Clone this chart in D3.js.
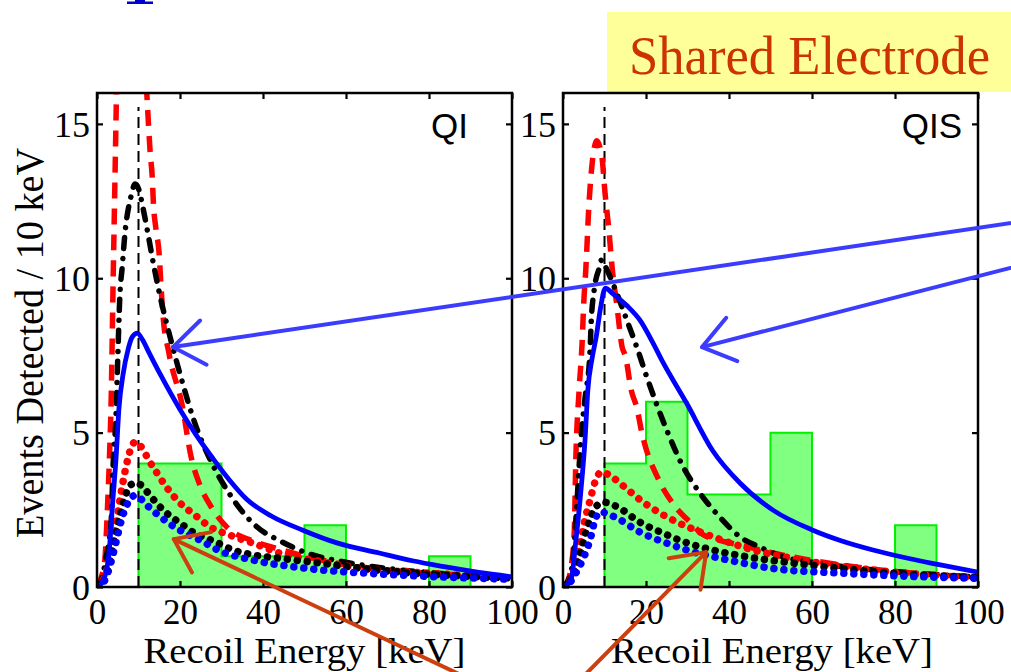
<!DOCTYPE html>
<html><head><meta charset="utf-8">
<script src="https://cdn.jsdelivr.net/npm/d3@7"></script>
<style>html,body{margin:0;padding:0;background:#fff;} svg{display:block;}</style>
</head><body>
<svg id="chart" width="1011" height="672"></svg>
<script>
// ---------------- data ----------------
const panelNames = ["QI", "QIS"];
const binEdges = [0, 10, 20, 30, 40, 50, 60, 70, 80, 90, 100];
const qiCounts  = [0, 4, 4, 1, 1, 2, 0, 0, 1, 0];
const qisCounts = [0, 4, 6, 3, 3, 5, 0, 0, 2, 0];
const xTicks = [0, 20, 40, 60, 80, 100];
const yTicks = [0, 5, 10, 15];
const thresholdKeV = 10;

// curves: [recoil energy keV, events / 10 keV]
const qiRedDash = [[0,0],[1,0.3],[1.9,0.9],[2.5,2.5],[3.0,4.2],[3.4,6],[3.9,10],[4.3,13],[4.7,16],[5.5,21],[7,24],[8.5,24.5],[10,22],[11,19],[12,16],[12.4,15],[12.8,14.1],[13.3,13.3],[13.6,12.4],[14.2,11.6],[15,10.75],[15.4,9.8],[15.9,8.8],[17.3,7.6],[20.5,5.9],[22.7,4.2],[24.8,3.3],[27.5,2.6],[31.3,1.94],[37.6,1.49],[43,1.26],[50,1.0],[60,0.72],[70,0.55],[80,0.45],[90,0.38],[100,0.3]];
const qiBlackDashDot = [[0,0],[1,0.2],[2.2,0.97],[3.4,2.1],[3.9,4.0],[4.6,5.6],[5.0,7.4],[5.5,9.4],[6.1,10.4],[6.7,11.4],[8.1,12.6],[9.2,13.05],[10,12.9],[11.2,12.2],[12.4,11.35],[13.7,10.4],[15.3,9.36],[17.6,8.1],[20,6.9],[23.6,5.3],[27,4.2],[32,3.0],[38.5,1.95],[44,1.5],[50.6,1.1],[60,0.8],[70,0.6],[80,0.47],[90,0.37],[100,0.3]];
const qiBlueSolid = [[0,0],[1.5,0.2],[2.9,1.1],[3.7,2.6],[4.6,4.2],[5.3,5.8],[6.3,6.9],[7.5,7.7],[8.5,8.1],[9.7,8.22],[11,8.0],[12.5,7.6],[15.2,6.9],[20,5.75],[24,4.9],[28,4.15],[32,3.45],[36,2.85],[42,2.3],[49.6,1.84],[58,1.42],[68,1.1],[76,0.85],[84,0.65],[92,0.47],[100,0.33]];
const qiRedDots = [[0,0],[2,0.4],[4,1.5],[5.5,2.8],[7,3.9],[8.2,4.5],[9.2,4.7],[13.2,3.95],[16.4,3.3],[20,2.72],[23.6,2.33],[27.2,1.95],[32,1.68],[37.6,1.42],[44,1.1],[52,0.87],[64,0.6],[80,0.45],[90,0.36],[100,0.29]];
const qiBlackDots = [[0,0],[2,0.3],[3.5,1.0],[5,2.0],[6.5,2.8],[8,3.3],[9.6,3.37],[12,3.09],[14.7,2.66],[16.8,2.39],[20,2.07],[23.6,1.74],[28.4,1.47],[32.8,1.2],[37.6,1.04],[44,0.93],[52,0.8],[64,0.6],[76,0.45],[100,0.29]];
const qiBlueDots = [[0,0],[1.9,0.22],[3.5,0.87],[4.7,1.52],[5.9,2.17],[8,2.85],[9.2,2.97],[12,2.65],[15.2,2.28],[19.2,1.9],[24.8,1.52],[29.6,1.17],[37.6,0.87],[50.6,0.6],[68,0.42],[84,0.32],[100,0.25]];

const qisRedDash = [[0,0],[1,0.15],[1.9,0.6],[2.7,1.75],[3.1,4.2],[3.9,6.4],[4.6,7.9],[5.0,9.2],[5.5,10.3],[6.3,12.5],[6.8,13.4],[7.5,14.2],[8.1,14.45],[9.4,13.9],[10.1,12.8],[11.1,11.5],[11.8,10.4],[13,9.1],[14.2,7.8],[15.1,7.45],[16.4,6.4],[17.8,5.8],[19,5.0],[23.1,3.46],[26.5,2.7],[30.6,2.1],[33.7,1.7],[38,1.5],[43,1.35],[50,1.12],[60,0.86],[70,0.66],[80,0.5],[90,0.4],[100,0.32]];
const qisBlackDashDot = [[0,0],[1.2,0.2],[2.4,0.87],[3.3,2.6],[4.3,4.75],[5.3,6.1],[6.5,7.6],[6.8,8.6],[7.5,9.6],[8.9,10.4],[9.3,10.6],[10.5,10.3],[13,9.5],[15.5,8.6],[17.8,7.76],[20.2,6.8],[25,5.08],[29,3.88],[33,3.04],[37.8,2.26],[42.7,1.62],[47.5,1.29],[53,0.98],[61,0.78],[70,0.62],[80,0.5],[90,0.4],[100,0.32]];
const qisBlueSolid = [[0,0],[1.9,0.2],[3.1,1.5],[4.3,3.1],[5.3,4.75],[6.0,6.4],[7.0,7.4],[8,8.1],[9,9.0],[10.2,9.68],[12,9.5],[15.5,9.1],[18.5,8.65],[21.7,7.9],[24,7.3],[29.8,5.95],[36,4.43],[42.7,3.36],[50.6,2.49],[60.2,1.84],[67,1.5],[74.7,1.2],[82.8,0.94],[90,0.74],[100,0.48]];
const qisRedDots = [[0,0],[2,0.3],[4,1.3],[5.5,2.3],[6.5,2.8],[7.7,3.4],[9.3,3.73],[11.7,3.57],[15.7,3.14],[19.3,2.75],[23.4,2.39],[27.5,2.1],[33.7,1.75],[39.4,1.47],[45.8,1.2],[54.7,0.94],[70.8,0.61],[95,0.33],[100,0.3]];
const qisBlackDots = [[0,0],[2,0.25],[4,1.0],[6,2.0],[7.7,2.55],[9.7,2.75],[13,2.6],[18.5,2.1],[24,1.75],[29,1.47],[36,1.2],[44.3,0.98],[58.8,0.72],[74.7,0.5],[97,0.32],[100,0.3]];
const qisBlueDots = [[0,0],[2,0.2],[3.5,0.55],[4.8,0.9],[6.5,1.52],[7.7,2.16],[8.9,2.43],[13,2.23],[18.5,1.78],[25,1.42],[31.3,1.14],[40,0.87],[50.6,0.6],[66.7,0.45],[94,0.3],[100,0.28]];

// annotation arrows: tip in panel data coords, tail in page pixels
const blueArrows = [
  {panel: 0, tip: [18.3, 7.77], tail: [1045, 218]},
  {panel: 1, tip: [33.5, 7.77], tail: [1045, 259]}
];
const orangeArrows = [
  {panel: 0, tip: [18.5, 1.55], tail: [480, 684]},
  {panel: 1, tip: [34.5, 1.13], tail: [575, 685]}
];

// ---------------- layout ----------------
const W = 1011, H = 672;
const plotTop = 93, plotBottom = 587;
const panelX = [[97, 512], [563, 978]];
const serif = "'Liberation Serif', 'Times New Roman', serif";
const sans = "'Liberation Sans', Arial, Helvetica, sans-serif";

const svg = d3.select("#chart");
svg.append("rect").attr("width", W).attr("height", H).attr("fill", "#fff");

// fragment of a blue title glyph cut by the top edge (decorative shape)
svg.append("path")
  .attr("d", "M135,0 L145,0 L145,1.5 L153,1.5 L153,4 L127,4 L127,1.5 L135,1.5 Z")
  .attr("fill", "#0000cc");

// yellow label box
svg.append("rect").attr("x", 607).attr("y", 12).attr("width", 410).attr("height", 80)
  .attr("fill", "#ffff99");
svg.append("text").attr("x", 629).attr("y", 74)
  .attr("font-family", serif).attr("font-size", 55).attr("fill", "#cc3300")
  .attr("textLength", 361).attr("lengthAdjust", "spacingAndGlyphs")
  .text("Shared Electrode");

const y = d3.scaleLinear().domain([0, 16]).range([plotBottom, plotTop]);

const panels = [
  {name: panelNames[0], counts: qiCounts, curves: [qiRedDash, qiBlackDashDot, qiRedDots, qiBlackDots, qiBlueDots, qiBlueSolid]},
  {name: panelNames[1], counts: qisCounts, curves: [qisRedDash, qisBlackDashDot, qisRedDots, qisBlackDots, qisBlueDots, qisBlueSolid]}
];
const curveStyles = [
  {stroke: "#ff0000", width: 5.5, dash: "16,10", cap: "butt"},
  {stroke: "#000000", width: 5.5, dash: "11,10,0.01,10", cap: "round"},
  {stroke: "#ff0000", width: 7.5, dash: "0.01,10", cap: "round"},
  {stroke: "#000000", width: 7.5, dash: "0.01,10", cap: "round"},
  {stroke: "#0000ff", width: 7.5, dash: "0.01,10", cap: "round"},
  {stroke: "#0000ff", width: 4.8, dash: null, cap: "round"}
];

const scales = [];
panels.forEach((p, i) => {
  const x = d3.scaleLinear().domain([0, 100]).range(panelX[i]);
  scales.push(x);
  const g = svg.append("g");
  const clipId = "clip" + i;
  svg.append("clipPath").attr("id", clipId).append("rect")
    .attr("x", panelX[i][0]).attr("y", plotTop)
    .attr("width", panelX[i][1] - panelX[i][0]).attr("height", plotBottom - plotTop);
  const inner = g.append("g").attr("clip-path", `url(#${clipId})`);

  // histogram (step outline)
  const histPts = p.counts.map((c, k) => [binEdges[k], c]);
  histPts.push([binEdges[binEdges.length - 1], p.counts[p.counts.length - 1]]);
  inner.append("path").datum(histPts)
    .attr("d", d3.area().x(d => x(d[0])).y0(y(0)).y1(d => y(d[1])).curve(d3.curveStepAfter))
    .attr("fill", "#80ff80");
  inner.append("path").datum(histPts)
    .attr("d", d3.line().x(d => x(d[0])).y(d => y(d[1])).curve(d3.curveStepAfter))
    .attr("fill", "none").attr("stroke", "#00f000").attr("stroke-width", 2);

  // threshold line
  inner.append("line")
    .attr("x1", x(thresholdKeV)).attr("x2", x(thresholdKeV))
    .attr("y1", y(0)).attr("y2", y(15.55))
    .attr("stroke", "#000").attr("stroke-width", 2).attr("stroke-dasharray", "11,6");

  // curves
  const line = d3.line().x(d => x(d[0])).y(d => y(d[1])).curve(d3.curveMonotoneX);
  p.curves.forEach((c, k) => {
    const st = curveStyles[k];
    const path = inner.append("path").datum(c).attr("d", line)
      .attr("fill", "none").attr("stroke", st.stroke)
      .attr("stroke-width", st.width).attr("stroke-linecap", st.cap)
      .attr("stroke-linejoin", "round");
    if (st.dash) path.attr("stroke-dasharray", st.dash);
  });

  // axes with inside ticks
  const axB = g.append("g").attr("transform", `translate(0,${plotBottom})`)
    .call(d3.axisBottom(x).tickValues(xTicks).tickSize(-6).tickPadding(14).tickFormat(d3.format("d")));
  const axT = g.append("g").attr("transform", `translate(0,${plotTop})`)
    .call(d3.axisTop(x).tickValues(xTicks).tickSize(-6).tickFormat(""));
  const axL = g.append("g").attr("transform", `translate(${panelX[i][0]},0)`)
    .call(d3.axisLeft(y).tickValues(yTicks).tickSize(-6).tickPadding(14).tickFormat(d3.format("d")));
  const axR = g.append("g").attr("transform", `translate(${panelX[i][1]},0)`)
    .call(d3.axisRight(y).tickValues(yTicks).tickSize(-6).tickFormat(""));
  [axB, axT, axL, axR].forEach(a => {
    a.select(".domain").remove();
    a.selectAll(".tick line").attr("stroke", "#000").attr("stroke-width", 2.2);
    a.selectAll("text").attr("font-family", serif).attr("font-size", 35).attr("fill", "#000");
  });
  axB.selectAll("text").attr("dy", "0").attr("y", 37);
  axL.selectAll("text").attr("font-size", 36).attr("x", -7).attr("dy", "0.34em");

  // frame
  g.append("rect").attr("x", panelX[i][0]).attr("y", plotTop)
    .attr("width", panelX[i][1] - panelX[i][0]).attr("height", plotBottom - plotTop)
    .attr("fill", "none").attr("stroke", "#000").attr("stroke-width", 2.5);

  // panel label
  const labelEnd = i === 0 ? panelX[i][1] - 44 : panelX[i][1] - 16;
  g.append("text").attr("x", labelEnd).attr("y", 138).attr("text-anchor", "end")
    .attr("font-family", sans).attr("font-size", 35).attr("fill", "#000").text(p.name);

  // x axis title
  const cx = (panelX[i][0] + panelX[i][1]) / 2 + (i === 0 ? 0 : 1.5);
  g.append("text").attr("x", cx - 161).attr("y", 663)
    .attr("font-family", serif).attr("font-size", 35).attr("fill", "#000")
    .attr("textLength", 322).attr("lengthAdjust", "spacingAndGlyphs")
    .text("Recoil Energy [keV]");
});

// y axis title
svg.append("text")
  .attr("transform", "translate(43,538) rotate(-90)")
  .attr("font-family", serif).attr("font-size", 40).attr("fill", "#000")
  .attr("textLength", 390).attr("lengthAdjust", "spacingAndGlyphs")
  .text("Events Detected / 10 keV");

// annotation arrows
function drawArrow(a, color) {
  const x = scales[a.panel];
  const tip = [x(a.tip[0]), y(a.tip[1])];
  const ang = Math.atan2(a.tail[1] - tip[1], a.tail[0] - tip[0]);
  const len = 38, spread = 36 * Math.PI / 180;
  const w1 = [tip[0] + len * Math.cos(ang - spread), tip[1] + len * Math.sin(ang - spread)];
  const w2 = [tip[0] + len * Math.cos(ang + spread), tip[1] + len * Math.sin(ang + spread)];
  const gl = svg.append("g").attr("fill", "none").attr("stroke", color)
    .attr("stroke-width", 4).attr("stroke-linecap", "round").attr("stroke-linejoin", "round");
  gl.append("path").attr("d", d3.line()([a.tail, tip]));
  gl.append("path").attr("d", d3.line()([w1, tip, w2]));
}
blueArrows.forEach(a => drawArrow(a, "#3c3cff"));
orangeArrows.forEach(a => drawArrow(a, "#cc4010"));
</script>
</body></html>
